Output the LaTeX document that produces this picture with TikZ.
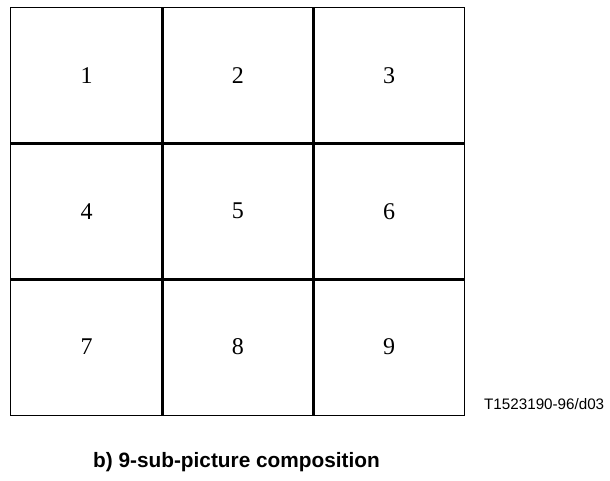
\documentclass[tikz,border=0pt]{standalone}
\usepackage{fontspec}
\setmainfont{Liberation Serif}
\setsansfont{Liberation Sans}
\usepackage{tikz}

\begin{document}
\begin{tikzpicture}[x=1pt, y=-1pt,
    cell/.style={inner sep=0pt, minimum width=151.2pt, minimum height=135.8pt, font=\fontsize{24}{28}\selectfont},
    outer/.style={draw, line width=1.3pt},
    divider/.style={draw, line width=3pt}
]
    \useasboundingbox (0,0) rectangle (610,481);

    \node[cell] (c1) at (86.6,75.4) {1};
    \node[cell] (c2) at (237.8,75.4) {2};
    \node[cell] (c3) at (389,75.4) {3};
    \node[cell] (c4) at (86.6,211.2) {4};
    \node[cell] (c5) at (237.8,211.2) {5};
    \node[cell] (c6) at (389,211.2) {6};
    \node[cell] (c7) at (86.6,347.1) {7};
    \node[cell] (c8) at (237.8,347.1) {8};
    \node[cell] (c9) at (389,347.1) {9};

    \draw[divider] (c1.north east) -- (c7.south east);
    \draw[divider] (c2.north east) -- (c8.south east);
    \draw[divider] (c1.south west) -- (c3.south east);
    \draw[divider] (c4.south west) -- (c6.south east);
    \draw[outer] (c1.north west) rectangle (c9.south east);

    \node[anchor=base west, inner sep=0pt, font=\sffamily\fontsize{15.2}{18}\selectfont] (code) at (484,409) {T1523190-96/d03};
    \node[anchor=base west, inner sep=0pt, font=\sffamily\bfseries\fontsize{20.8}{25}\selectfont] (caption) at (93,467) {b) 9-sub-picture composition};
\end{tikzpicture}
\end{document}
